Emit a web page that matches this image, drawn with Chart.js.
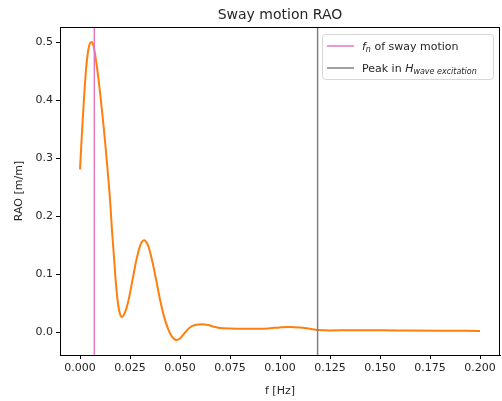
<!DOCTYPE html>
<html>
<head>
<meta charset="utf-8">
<script src="https://cdn.jsdelivr.net/npm/chart.js@4"></script>
<style>
  html, body { margin: 0; padding: 0; background: #fff; }
  #wrap { width: 502px; height: 401px; }
</style>
</head>
<body>
<div id="wrap"><canvas id="raoChart" width="502" height="401"></canvas></div>
<script>
// frequency [Hz] and sway RAO [m/m]
const freq = [0.000, 0.001, 0.002, 0.003, 0.004, 0.005, 0.006, 0.007, 0.008, 0.009,
              0.010, 0.011, 0.012, 0.013, 0.014, 0.015, 0.016, 0.017, 0.018, 0.019,
              0.020, 0.021, 0.022, 0.024, 0.026, 0.028, 0.030, 0.032, 0.034, 0.036,
              0.038, 0.040, 0.042, 0.044, 0.046, 0.048, 0.050, 0.052, 0.054, 0.056,
              0.058, 0.061, 0.064, 0.067, 0.070, 0.075, 0.080, 0.085, 0.090, 0.095,
              0.100, 0.105, 0.110, 0.115, 0.119, 0.125, 0.135, 0.150, 0.165, 0.180, 0.200];
const rao  = [0.281, 0.345, 0.403, 0.452, 0.483, 0.498, 0.500, 0.490, 0.468, 0.443,
              0.414, 0.382, 0.348, 0.311, 0.272, 0.230, 0.176, 0.130, 0.083, 0.050,
              0.032, 0.027, 0.031, 0.052, 0.086, 0.122, 0.149, 0.159, 0.150, 0.125,
              0.092, 0.057, 0.028, 0.007, -0.007, -0.0125, -0.010, -0.002, 0.006, 0.011,
              0.0135, 0.0145, 0.013, 0.010, 0.008, 0.007, 0.0068, 0.0066, 0.0066, 0.0075,
              0.009, 0.0098, 0.009, 0.0065, 0.0046, 0.0038, 0.0040, 0.0040, 0.0035, 0.0032, 0.003];

const fnSway = 0.00716;        // natural frequency of sway motion
const peakExcitation = 0.1188; // peak in wave excitation

const xTicks = [0, 0.025, 0.05, 0.075, 0.1, 0.125, 0.15, 0.175, 0.2];
const yTicks = [0, 0.1, 0.2, 0.3, 0.4, 0.5];

const FONT = 'DejaVu Sans';
const TXT = '#262626';

const mplFrame = {
    id: 'mplFrame',
    afterDraw(chart) {
        const { ctx, chartArea: a } = chart;
        ctx.save();
        ctx.strokeStyle = '#000';
        ctx.lineWidth = 1;
        ctx.strokeRect(Math.round(a.left) + 0.5, Math.round(a.top) + 0.5,
                       Math.round(a.right - a.left) - 1, Math.round(a.bottom - a.top));

        // title
        ctx.fillStyle = TXT;
        ctx.font = '14px ' + FONT;
        ctx.textAlign = 'center';
        ctx.textBaseline = 'alphabetic';
        ctx.fillText('Sway motion RAO', (a.left + a.right) / 2, 19);

        // legend box
        const bx = 322.5, by = 34.5, bw = 171, bh = 45;
        ctx.beginPath();
        ctx.roundRect(bx, by, bw, bh, 3);
        ctx.fillStyle = 'rgba(255,255,255,0.8)';
        ctx.fill();
        ctx.strokeStyle = '#d6d6d6';
        ctx.stroke();

        const rows = [
            { color: '#e377c2', y: 46, parts: [['f', 'i'], ['n', 'is'], [' of sway motion', 'n']] },
            { color: '#7f7f7f', y: 68, parts: [['Peak in ', 'n'], ['H', 'i'], ['wave excitation', 'is']] }
        ];
        rows.forEach(r => {
            ctx.strokeStyle = r.color;
            ctx.lineWidth = 1.5;
            ctx.beginPath();
            ctx.moveTo(327, r.y);
            ctx.lineTo(354, r.y);
            ctx.stroke();
            let x = 362;
            ctx.textAlign = 'left';
            ctx.fillStyle = TXT;
            r.parts.forEach(([s, st]) => {
                let dy = 4;
                if (st === 'n') ctx.font = '11px ' + FONT;
                if (st === 'i') ctx.font = 'oblique 11px ' + FONT;
                if (st === 'is') { ctx.font = 'oblique 8px ' + FONT; dy = 6; }
                ctx.fillText(s, x, r.y + dy);
                x += ctx.measureText(s).width;
            });
        });
        ctx.restore();
    }
};

const ctx = document.getElementById('raoChart').getContext('2d');
const raoChart = new Chart(ctx, {
    type: 'line',
    data: {
        datasets: [
            {
                label: 'RAO',
                data: freq.map((f, i) => ({ x: f, y: rao[i] })),
                borderColor: '#ff7f0e',
                borderWidth: 2,
                pointRadius: 0,
                cubicInterpolationMode: 'monotone',
                order: 2
            },
            {
                label: 'fn of sway motion',
                data: [{ x: fnSway, y: -1 }, { x: fnSway, y: 1 }],
                borderColor: '#e377c2',
                borderWidth: 1.5,
                pointRadius: 0,
                clip: 0,
                order: 1
            },
            {
                label: 'Peak in H wave excitation',
                data: [{ x: peakExcitation, y: -1 }, { x: peakExcitation, y: 1 }],
                borderColor: '#7f7f7f',
                borderWidth: 1.5,
                pointRadius: 0,
                clip: 0,
                order: 1
            }
        ]
    },
    options: {
        responsive: false,
        animation: false,
        layout: { padding: { top: 27, right: 2, left: 0, bottom: 3 } },
        plugins: { legend: { display: false }, tooltip: { enabled: false }, title: { display: false } },
        scales: {
            x: {
                type: 'linear',
                min: -0.01,
                max: 0.21,
                afterBuildTicks: axis => { axis.ticks = xTicks.map(v => ({ value: v })); },
                afterFit: axis => { axis.height = 43; },
                ticks: {
                    autoSkip: false,
                    maxRotation: 0,
                    color: TXT,
                    font: { family: FONT, size: 11 },
                    padding: 3,
                    callback: v => v.toFixed(3)
                },
                grid: { drawOnChartArea: false, tickLength: 4, tickColor: '#000', tickWidth: 1 },
                border: { color: '#000', width: 1 },
                title: { display: true, text: 'f [Hz]', color: TXT, font: { family: FONT, size: 11 }, padding: { top: 0, bottom: 0 } }
            },
            y: {
                min: -0.0385,
                max: 0.526,
                afterBuildTicks: axis => { axis.ticks = yTicks.map(v => ({ value: v })); },
                afterFit: axis => { axis.width = 60; },
                ticks: {
                    color: TXT,
                    font: { family: FONT, size: 11 },
                    padding: 3,
                    callback: v => v.toFixed(1)
                },
                grid: { drawOnChartArea: false, tickLength: 4, tickColor: '#000', tickWidth: 1 },
                border: { color: '#000', width: 1 },
                title: { display: true, text: 'RAO [m/m]', color: TXT, font: { family: FONT, size: 11 }, padding: { top: 13 } }
            }
        }
    },
    plugins: [mplFrame]
});
</script>
</body>
</html>
